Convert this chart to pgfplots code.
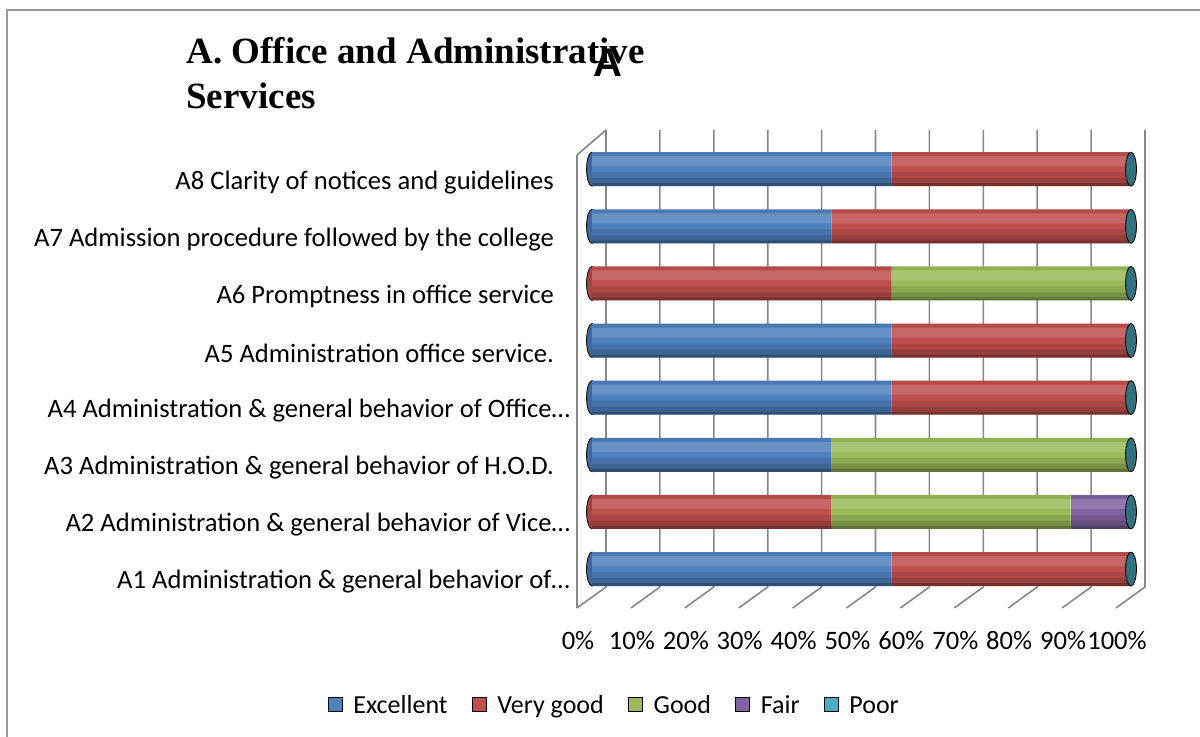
\documentclass[border=0pt]{standalone}
\usepackage{pgfplots}
\pgfplotsset{compat=1.18}
\usepackage{fontspec}
\setmainfont{Carlito}
\newfontfamily\titlefont{Liberation Serif}
\newfontfamily\sansbold{Liberation Sans}

\definecolor{cExc}{HTML}{4F81BD}
\definecolor{cVg}{HTML}{C0504D}
\definecolor{cGood}{HTML}{9BBB59}
\definecolor{cFair}{HTML}{8064A2}
\definecolor{cPoor}{HTML}{4BACC6}
\definecolor{capteal}{HTML}{31707E}
\definecolor{gridgray}{HTML}{878787}

\pgfplotsset{
  base/.style={at={(296pt,69.7pt)}, anchor=south west, scale only axis,
    width=269.5pt, height=228.5pt, xmin=0, xmax=100, ymin=0.5, ymax=8.5},
  band/.style 2 args={xbar, bar width=#1, bar shift=#2, draw=none},
}

\begin{document}
\begin{tikzpicture}[x=0.5pt,y=0.5pt]
\path[use as bounding box] (0,0) rectangle (1200,737);
\draw[gray!80, line width=0.6pt] (7,0) -- (7,727) -- (1200,727);

% walls and floor of the 3-D frame
\begin{scope}[gridgray, line width=0.8pt]
  \foreach \k in {0,...,10} {
    \draw ({606+53.9*\k},607) -- ({606+53.9*\k},150) -- ({577+53.9*\k},129);
  }
  \draw (577,582) -- (577,129);
  \draw (577,582) -- (606,607);
\end{scope}

\node[anchor=north west, inner sep=0, align=left,
  font=\titlefont\bfseries\fontsize{18.5}{22.5}\selectfont] at (186,700)
  {A. Office and Administrative\\Services};
\node[font=\sansbold\bfseries\fontsize{20}{22}\selectfont] at (608,674) {A};

% left ends of the cylinders, behind the bars
\begin{axis}[base, hide axis]
  \addplot[only marks, mark=*, mark size=8.5pt, mark options={xscale=0.32, fill=cExc!80!black, draw=none}]
    coordinates {(0,1) (0,3) (0,4) (0,5) (0,7) (0,8)};
  \addplot[only marks, mark=*, mark size=8.5pt, mark options={xscale=0.32, fill=cVg!85!black, draw=none}]
    coordinates {(0,2) (0,6)};
\end{axis}

\begin{axis}[base,
  xbar stacked, bar width=17pt,
  axis line style={draw=none}, major tick style={draw=none},
  ytick={1,...,8},
  yticklabels={
    A1 Administration \& general behavior of…,
    A2 Administration \& general behavior of Vice…,
    A3 Administration \& general behavior of H.O.D.\hspace*{8pt},
    A4 Administration \& general behavior of Office…,
    A5 Administration office service.\hspace*{8pt},
    A6 Promptness in office service\hspace*{8pt},
    A7 Admission procedure followed by the college\hspace*{8pt},
    A8 Clarity of notices and guidelines\hspace*{8pt}},
  yticklabel style={font=\fontsize{13.3}{16}\selectfont, xshift=-7.5pt, yshift=-6.5pt},
  xtick={0,10,...,100},
  xticklabels={0\%,10\%,20\%,30\%,40\%,50\%,60\%,70\%,80\%,90\%,100\%},
  xticklabel style={font=\fontsize{13.3}{16}\selectfont, xshift=-7pt, yshift=-13.5pt},
  legend columns=5,
  legend style={at={(0.043,-0.233)}, anchor=center, draw=none, fill=none,
    font=\fontsize{13}{16}\selectfont,
    /tikz/every odd column/.append style={column sep=3.5pt},
    /tikz/every even column/.append style={column sep=10pt}},
  legend image code/.code={\fill[#1] (0pt,-3.5pt) rectangle (7pt,3.5pt);},
]
  % Excellent
  \addplot[forget plot, fill=cExc, draw=none] coordinates {
    (55.6,1) (0,2) (44.4,3) (55.6,4) (55.6,5) (0,6) (44.4,7) (55.6,8)};
  % Very good
  \addplot[forget plot, fill=cVg, draw=none] coordinates {
    (44.4,1) (44.4,2) (0,3) (44.4,4) (44.4,5) (55.6,6) (55.6,7) (44.4,8)};
  % Good
  \addplot[forget plot, fill=cGood, draw=none] coordinates {
    (0,1) (44.4,2) (55.6,3) (0,4) (0,5) (44.4,6) (0,7) (0,8)};
  % Fair
  \addplot[forget plot, fill=cFair, draw=none] coordinates {
    (0,1) (11.1,2) (0,3) (0,4) (0,5) (0,6) (0,7) (0,8)};
  % Poor
  \addplot[forget plot, fill=cPoor, draw=none] coordinates {
    (0,1) (0,2) (0,3) (0,4) (0,5) (0,6) (0,7) (0,8)};
  \addlegendimage{fill=cExc}
  \addlegendimage{fill=cVg}
  \addlegendimage{fill=cGood}
  \addlegendimage{fill=cFair}
  \addlegendimage{fill=cPoor}
  \legend{Excellent\strut, Very good\strut, Good\strut, Fair\strut, Poor\strut}
\end{axis}

% cylinder shading bands over each full bar, then the right ends
\begin{axis}[base, hide axis]
  \addplot[band={2pt}{7.5pt}, fill=black, fill opacity=0.06] coordinates {
    (100,1) (100,2) (100,3) (100,4) (100,5) (100,6) (100,7) (100,8)};
  \addplot[band={5pt}{4pt}, fill=white, fill opacity=0.14] coordinates {
    (100,1) (100,2) (100,3) (100,4) (100,5) (100,6) (100,7) (100,8)};
  \addplot[band={3pt}{-3pt}, fill=black, fill opacity=0.1] coordinates {
    (100,1) (100,2) (100,3) (100,4) (100,5) (100,6) (100,7) (100,8)};
  \addplot[band={2.5pt}{-5.75pt}, fill=black, fill opacity=0.22] coordinates {
    (100,1) (100,2) (100,3) (100,4) (100,5) (100,6) (100,7) (100,8)};
  \addplot[band={1.5pt}{-7.75pt}, fill=black, fill opacity=0.38] coordinates {
    (100,1) (100,2) (100,3) (100,4) (100,5) (100,6) (100,7) (100,8)};
  \addplot[only marks, mark=*, mark size=8.5pt, mark options={xscale=0.32, fill=capteal, draw=none}]
    coordinates {(100,1) (100,2) (100,3) (100,4) (100,5) (100,6) (100,7) (100,8)};
\end{axis}
\end{tikzpicture}
\end{document}
